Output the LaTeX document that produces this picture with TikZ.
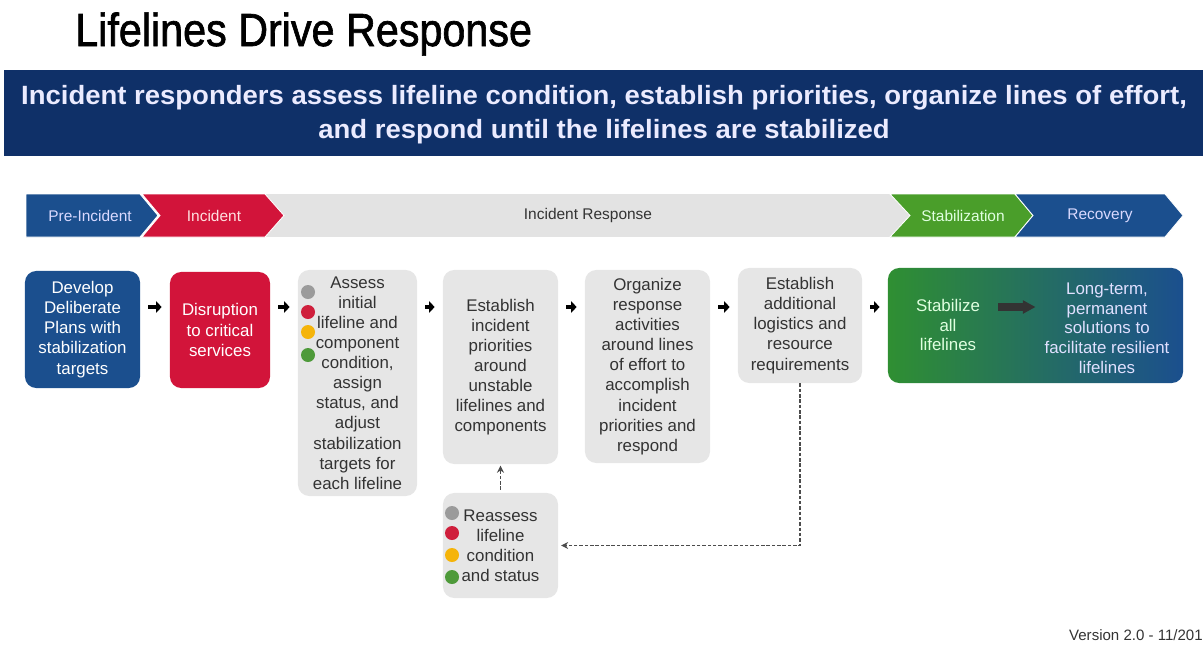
\documentclass[tikz,border=0pt]{standalone}
\usepackage{fontspec}
\usepackage{graphicx}
\setmainfont{Liberation Sans}
\newfontfamily\titlefont[FakeBold=1.5]{Liberation Sans}
\usetikzlibrary{arrows.meta}

\definecolor{navy}{HTML}{0F3068}
\definecolor{fblue}{HTML}{1B4F8E}
\definecolor{fred}{HTML}{D2143A}
\definecolor{fgreen}{HTML}{4A9E2A}
\definecolor{stabgreen}{HTML}{2F8F32}
\definecolor{boxgray}{HTML}{E6E6E6}
\definecolor{bargray}{HTML}{E3E3E3}
\definecolor{dotgray}{HTML}{9B9B9B}
\definecolor{dotred}{HTML}{CF1F3C}
\definecolor{dotyellow}{HTML}{F5B40A}
\definecolor{dotgreen}{HTML}{4E9A3A}
\definecolor{txtgray}{HTML}{333333}

\tikzset{
  box/.style={rounded corners=8pt, align=center, inner sep=0pt,
    font=\fontsize{12}{14.3}\selectfont},
  graybox/.style={box, fill=boxgray, text=txtgray},
  boxtext/.style={align=center, inner sep=0pt, font=\fontsize{12}{14}\selectfont},
  dot/.style={circle, inner sep=0pt, minimum size=0.35cm},
  stagelabel/.style={inner sep=0pt, font=\fontsize{11}{13}\selectfont},
  smallarrow/.style={line width=2.5pt, -{Triangle[length=4pt,width=8pt]},
    shorten <=0.2cm, shorten >=0.2cm},
  bigarrow/.style={line width=5pt, draw=black!80, -{Triangle[length=9pt,width=9pt]}},
  dasharrow/.style={draw=black!70, line width=1.2pt, dash pattern=on 2.5pt off 1.3pt,
    -{Stealth[length=5pt,width=5pt]}},
}

\begin{document}
\begin{tikzpicture}[x=0.025cm,y=-0.025cm]
\useasboundingbox (0,0) rectangle (1203,646);

% title and banner
\node[anchor=base west, inner sep=0pt, font=\titlefont\fontsize{33}{36}\selectfont] (title) at (75,46)
  {\scalebox{0.89}[1]{Lifelines Drive Response}};
\fill[navy] (4,70) rectangle (1203,156);
\node[anchor=base, align=center, inner sep=0pt, text=white!92!blue,
  font=\bfseries\fontsize{18.8}{24}\selectfont] (banner) at (604,138)
  {\scalebox{1.04}[1]{Incident responders assess lifeline condition, establish priorities, organize lines of effort,}\\
   \scalebox{1.04}[1]{and respond until the lifelines are stabilized}};

% phase bar
\fill[bargray] (260,194) rectangle (912,237);
\filldraw[fill=fblue, draw=white, line width=0.6pt]
  (26,194) -- (140,194) -- (158,215.5) -- (140,237) -- (26,237) -- cycle;
\filldraw[fill=fred, draw=white, line width=0.6pt]
  (142,194) -- (265,194) -- (284,215.5) -- (265,237) -- (142,237) -- (160,215.5) -- cycle;
\filldraw[fill=fgreen, draw=white, line width=0.6pt]
  (890,194) -- (1015,194) -- (1033,215.5) -- (1015,237) -- (890,237) -- (910,215.5) -- cycle;
\filldraw[fill=fblue, draw=white, line width=0.6pt]
  (1015,194) -- (1165,194) -- (1183,215.5) -- (1165,237) -- (1015,237) -- (1033,215.5) -- cycle;
\node[stagelabel, text=white!85!blue] (pre) at (90,215.5) {Pre-Incident};
\node[stagelabel, text=white!88!red] (inc) at (214,215.5) {Incident};
\node[stagelabel, text=txtgray] (resp) at (588,215.5) {Incident Response};
\node[stagelabel, text=white!88!green] (stab) at (963,215.5) {Stabilization};
\node[stagelabel, text=white!85!blue] (rec) at (1100,215.5) {Recovery};

% boxes
\node[box, fill=fblue, text=white, minimum width=2.875cm, minimum height=2.925cm] (plans)
  at (82.5,329.5) {Develop\\Deliberate\\Plans with\\stabilization\\targets};
\node[box, fill=fred, text=white, minimum width=2.5cm, minimum height=2.9cm] (disrupt)
  at (220,330) {Disruption\\to critical\\services};
\node[graybox, minimum width=2.975cm, minimum height=5.65cm] (assess) at (357.5,383)
  {Assess\\initial\\lifeline and\\component\\condition,\\assign\\status, and\\adjust\\stabilization\\targets for\\each lifeline};
\node[graybox, minimum width=2.875cm, minimum height=4.85cm] (priorities) at (500.5,367)
  {Establish\\incident\\priorities\\around\\unstable\\lifelines and\\components};
\node[graybox, minimum width=3.125cm, minimum height=4.825cm] (organize) at (647.5,366.5)
  {Organize\\response\\activities\\around lines\\of effort to\\accomplish\\incident\\priorities and\\respond};
\node[graybox, minimum width=3.1cm, minimum height=2.875cm] (logistics) at (800,325.5)
  {Establish\\additional\\logistics and\\resource\\requirements};
\node[box, left color=stabgreen, right color=fblue, minimum width=7.375cm, minimum height=2.875cm]
  (stable) at (1035.5,325.5) {};
\node[boxtext, text=white!88!green] (stabilize) at (948,325) {Stabilize\\all\\lifelines};
\node[boxtext, text=white!88!blue] (longterm) at (1107,328)
  {Long-term,\\permanent\\solutions to\\facilitate resilient\\lifelines};
\node[graybox, minimum width=2.875cm, minimum height=2.625cm] (reassess) at (500.5,545.5)
  {Reassess\\lifeline\\condition\\and status};

% status dots
\foreach \c/\yy in {dotgray/292, dotred/312, dotyellow/332, dotgreen/355}
  \node[dot, fill=\c] (assess-\c) at (308,\yy) {};
\foreach \c/\yy in {dotgray/513, dotred/533, dotyellow/555, dotgreen/577}
  \node[dot, fill=\c] (reassess-\c) at (452,\yy) {};

% arrows
\draw[smallarrow] (plans.east |- 0,307) -- (disrupt.west |- 0,307);
\draw[smallarrow] (disrupt.east |- 0,307) -- (assess.west |- 0,307);
\draw[smallarrow] (assess.east |- 0,307) -- (priorities.west |- 0,307);
\draw[smallarrow] (priorities.east |- 0,307) -- (organize.west |- 0,307);
\draw[smallarrow] (organize.east |- 0,307) -- (logistics.west |- 0,307);
\draw[smallarrow] (logistics.east |- 0,307) -- (stable.west |- 0,307);
\draw[bigarrow, shorten <=0.45cm, shorten >=0.22cm] (stabilize.east |- 0,307) -- (longterm.west |- 0,307);
\draw[dasharrow, shorten >=2pt] (logistics.south) |- (reassess.east);
\draw[dasharrow, shorten <=2pt, shorten >=1pt] (reassess.north) -- (priorities.south);

\node[anchor=base east, inner sep=0pt, text=txtgray, font=\fontsize{10.7}{12}\selectfont]
  (version) at (1203,640) {Version 2.0 - 11/201};
\end{tikzpicture}
\end{document}
